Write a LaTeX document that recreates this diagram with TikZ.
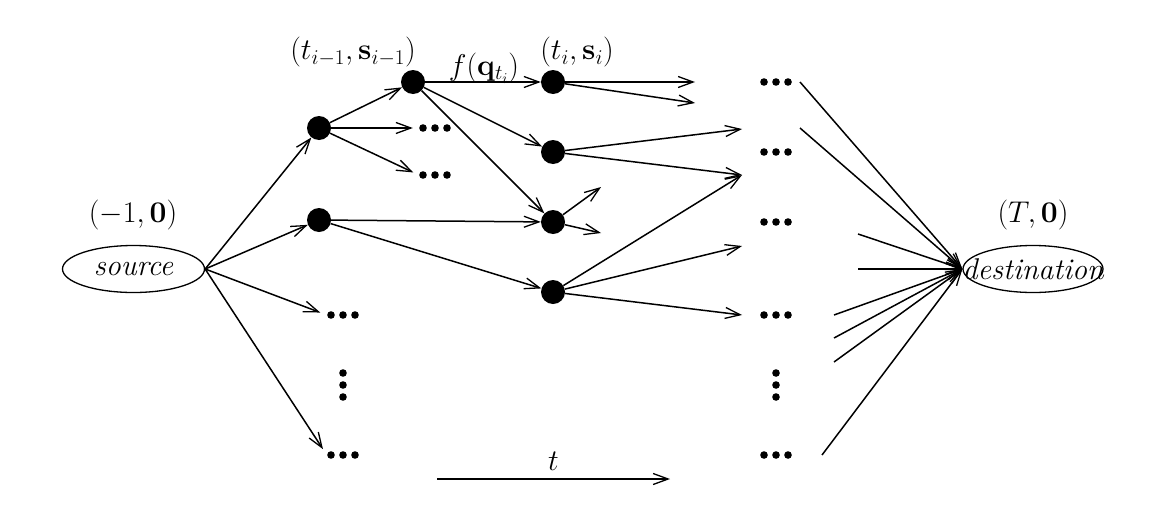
\RequirePackage{fix-cm}
\documentclass[tikz,border=0pt]{standalone}
\usetikzlibrary{arrows.meta,shapes.geometric}
\begin{document}
\begin{tikzpicture}[x=1pt,y=-1pt,
  every node/.style={font=\fontsize{30}{36}\selectfont},
  state/.style={circle,fill=black,minimum size=24pt,inner sep=0pt},
  dotsbox/.style={minimum width=32pt,minimum height=8pt,inner sep=0pt},
  endpoint/.style={ellipse,draw,line width=1.3pt,inner sep=0pt},
  arr/.style={line width=1.5pt,-{Straight Barb[length=15pt,width=11pt,line width=1.3pt]}}]
\useasboundingbox (0,0) rectangle (1158,522);

% end points
\node[endpoint,minimum width=142pt,minimum height=47pt] (src) at (133.5,269) {\makebox[0pt][c]{\itshape source}};
\node[endpoint,minimum width=140pt,minimum height=47pt] (dst) at (1033,269) {\makebox[0pt][c]{\itshape destination}};
\node (lsrc) at (133,215) {$(-1,\mathbf{0})$};
\node (ldst) at (1033,215) {$(T,\mathbf{0})$};

% states
\node[state] (A) at (319,128) {};
\node[state] (B) at (319,220) {};
\node[state] (C) at (413,82) {};
\node[state] (D) at (553,82) {};
\node[state] (E) at (553,152) {};
\node[state] (F) at (553,222) {};
\node[state] (G) at (553,292) {};
\node (lC) at (353,52) {$(t_{i-1},\mathbf{s}_{i-1})$};
\node (lD) at (577,52) {$(t_{i},\mathbf{s}_{i})$};
\node (lf) at (484,68) {$f(\mathbf{q}_{t_i})$};

% dots
\node[dotsbox] (a1) at (435,128) {};
\node[dotsbox] (a2) at (435,175) {};
\node[dotsbox] (l1) at (343,315) {};
\node[dotsbox] (l2) at (343,455) {};
\node[dotsbox] (r1) at (776,82) {};
\node[dotsbox] (r2) at (776,152) {};
\node[dotsbox] (r3) at (776,222) {};
\node[dotsbox] (r4) at (776,315) {};
\node[dotsbox] (r5) at (776,455) {};
\node[dotsbox,minimum width=8pt,minimum height=32pt] (lv) at (343,385) {};
\node[dotsbox,minimum width=8pt,minimum height=32pt] (rv) at (776,385) {};
\foreach \n in {a1,a2,l1,l2,r1,r2,r3,r4,r5}
  \fill (\n.center) +(-12,0) circle (3.8pt) +(0,0) circle (3.8pt) +(12,0) circle (3.8pt);
\foreach \n in {lv,rv}
  \fill (\n.center) +(0,-12) circle (3.8pt) +(0,0) circle (3.8pt) +(0,12) circle (3.8pt);

% free ends
\coordinate (d1) at (695,82);
\coordinate (d2) at (695,103);
\coordinate (e1) at (742,129);
\coordinate (e2) at (742,175);
\coordinate (f1) at (601,187);
\coordinate (f2) at (601,233);
\coordinate (g2) at (742,246);
\coordinate (g3) at (742,315);
\coordinate (s1) at (800,82);
\coordinate (s2) at (800,128);
\coordinate (s3) at (858,234);
\coordinate (s4) at (858,269);
\coordinate (s5) at (834,315);
\coordinate (s6) at (834,338);
\coordinate (s7) at (834,362);
\coordinate (s8) at (822,455);
\coordinate (t0) at (437,479);
\coordinate (t1) at (670,479);

% connectors
\draw[arr] (src.east) -- (A);
\draw[arr] (src.east) -- (B);
\draw[arr,shorten >=7pt] (src.east) -- (l1.west);
\draw[arr,shorten >=7pt] (src.east) -- (l2.west);
\draw[arr] (A) -- (C);
\draw[arr,shorten >=6pt] (A) -- (a1.west);
\draw[arr,shorten >=6pt] (A) -- (a2.west);
\draw[arr] (C) -- (D);
\draw[arr] (C) -- (E);
\draw[arr] (C) -- (F);
\draw[arr] (B) -- (F);
\draw[arr] (B) -- (G);
\draw[arr] (D) -- (d1);
\draw[arr] (D) -- (d2);
\draw[arr] (E) -- (e1);
\draw[arr] (E) -- (e2);
\draw[arr] (F) -- (f1);
\draw[arr] (F) -- (f2);
\draw[arr] (G) -- (e2);
\draw[arr] (G) -- (g2);
\draw[arr] (G) -- (g3);
\foreach \s in {s1,s2,s3,s4,s5,s6,s7,s8}
  \draw[arr] (\s) -- (dst.west);

% time axis
\draw[arr] (t0) -- node[above=4pt] (lt) {$t$} (t1);
\end{tikzpicture}
\end{document}
